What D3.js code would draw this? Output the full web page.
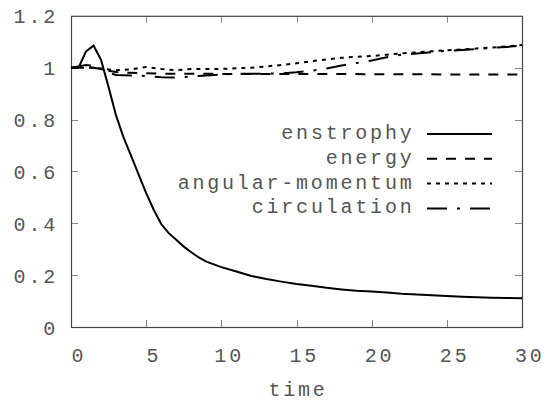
<!DOCTYPE html>
<html><head><meta charset="utf-8">
<script src="https://cdn.jsdelivr.net/npm/d3@7"></script>
<style>html,body{margin:0;padding:0;background:#fff;}svg{display:block;}</style>
</head><body>
<svg id="c" width="547" height="403"></svg>
<script>
const xTicks = [0, 5, 10, 15, 20, 25, 30];
const yTicks = [0, 0.2, 0.4, 0.6, 0.8, 1, 1.2];
const yTickLabels = ["0", "0.2", "0.4", "0.6", "0.8", "1", "1.2"];
const xLabel = "time";
const seriesNames = ["enstrophy", "energy", "angular-momentum", "circulation"];

const enstrophyT = [0,0.5,1,1.5,2,2.5,3,3.5,4,4.5,5,5.5,6,6.5,7,7.5,8,8.5,9,10,11,12,13,14,15,16,17,18,19,20,21,22,23,24,25,26,27,28,29,30];
const enstrophyV = [1,1,1.063,1.085,1.03,0.925,0.815,0.73,0.66,0.588,0.516,0.452,0.397,0.362,0.336,0.31,0.288,0.268,0.252,0.231,0.214,0.197,0.185,0.175,0.166,0.159,0.151,0.145,0.140,0.137,0.133,0.128,0.125,0.122,0.120,0.117,0.115,0.113,0.112,0.111];

const energyT = [0,0.5,1,1.5,2,2.5,3,4,5,6,8,10,15,20,25,30];
const energyV = [1,1,1.005,1,0.995,0.988,0.983,0.98,0.978,0.977,0.977,0.976,0.976,0.975,0.974,0.974];

const angularT = [0,1,2,3,4,5,6,7,8,9,10,11,12,13,14,15,16,17,18,19,20,21,22,23,24,25,26,27,28,29,30];
const angularV = [1,1,0.997,0.99,0.993,1.003,0.995,0.99,0.995,0.995,0.995,0.998,1,1.005,1.01,1.017,1.025,1.032,1.038,1.042,1.045,1.05,1.055,1.059,1.063,1.067,1.07,1.074,1.078,1.082,1.087];

const circT = [0,0.5,1,1.5,2,2.5,3,4,5,6,7,8,9,10,11,12,13,14,15,16,17,18,19,20,21,22,23,24,25,26,27,28,29,30];
const circV = [1,1.005,1.01,1.008,0.995,0.98,0.972,0.97,0.968,0.963,0.962,0.966,0.97,0.974,0.976,0.977,0.977,0.978,0.982,0.988,0.997,1.008,1.018,1.028,1.04,1.05,1.055,1.06,1.065,1.068,1.072,1.076,1.08,1.085];

const seriesT = [enstrophyT, energyT, angularT, circT];
const seriesV = [enstrophyV, energyV, angularV, circV];
const dashes = [null, "10,9", "4,5", "20,10,3,10"];

const svg = d3.select("#c");
const L = 71, R = 522, T = 15.8, B = 327;
const x = d3.scaleLinear().domain([0, 30]).range([L, R]);
const y = d3.scaleLinear().domain([0, 1.2]).range([B, T]);
const font = "'Liberation Mono', 'Courier New', monospace";
const fs = 20, ls = 2.8;
const textCol = "#555";

// ticks (inward, all four sides)
const tk = svg.append("g").attr("stroke", "#888").attr("stroke-width", 1);
xTicks.slice(1, -1).forEach(v => {
  const px = Math.round(x(v)) + 0.5;
  tk.append("line").attr("x1", px).attr("x2", px).attr("y1", B).attr("y2", B - 7);
  tk.append("line").attr("x1", px).attr("x2", px).attr("y1", T).attr("y2", T + 7);
});
yTicks.slice(1, -1).forEach(v => {
  const py = Math.round(y(v)) + 0.5;
  tk.append("line").attr("x1", L).attr("x2", L + 7).attr("y1", py).attr("y2", py);
  tk.append("line").attr("x1", R).attr("x2", R - 7).attr("y1", py).attr("y2", py);
});

// border
svg.append("rect").attr("x", L + 0.5).attr("y", T + 0.5)
  .attr("width", R - L).attr("height", B - T)
  .attr("fill", "none").attr("stroke", "#444").attr("stroke-width", 1.2);

// tick labels
const tl = svg.append("g").attr("font-family", font).attr("font-size", fs)
  .attr("letter-spacing", ls).attr("fill", textCol);
xTicks.forEach(v => {
  tl.append("text").attr("x", x(v) + 7.8).attr("y", 361.5)
    .attr("text-anchor", "middle").text(String(v));
});
yTicks.forEach((v, i) => {
  tl.append("text").attr("x", 58).attr("y", y(v) + 7.5)
    .attr("text-anchor", "end").text(yTickLabels[i]);
});
tl.append("text").attr("x", (L + R) / 2 + 1.5).attr("y", 396)
  .attr("text-anchor", "middle").text(xLabel);

// series
const line = d3.line().x(d => x(d[0])).y(d => y(d[1]));
svg.append("clipPath").attr("id", "pc").append("rect")
  .attr("x", L).attr("y", T).attr("width", R - L).attr("height", B - T);
seriesNames.forEach((n, i) => {
  const data = seriesT[i].map((t, j) => [t, seriesV[i][j]]);
  svg.append("path").datum(data).attr("d", line)
    .attr("fill", "none").attr("stroke", "#000").attr("stroke-width", 2)
    .attr("stroke-dasharray", dashes[i]).attr("clip-path", "url(#pc)");
});

// legend
const lg = svg.append("g");
seriesNames.forEach((n, i) => {
  const ly = 134 + i * 24.8;
  lg.append("text").attr("x", 414.5).attr("y", ly + 5)
    .attr("font-family", font).attr("font-size", fs).attr("letter-spacing", ls)
    .attr("fill", textCol).attr("text-anchor", "end").text(n);
  lg.append("line").attr("x1", 427).attr("x2", 492).attr("y1", ly).attr("y2", ly)
    .attr("stroke", "#000").attr("stroke-width", 2).attr("stroke-dasharray", dashes[i]);
});
</script>
</body></html>
